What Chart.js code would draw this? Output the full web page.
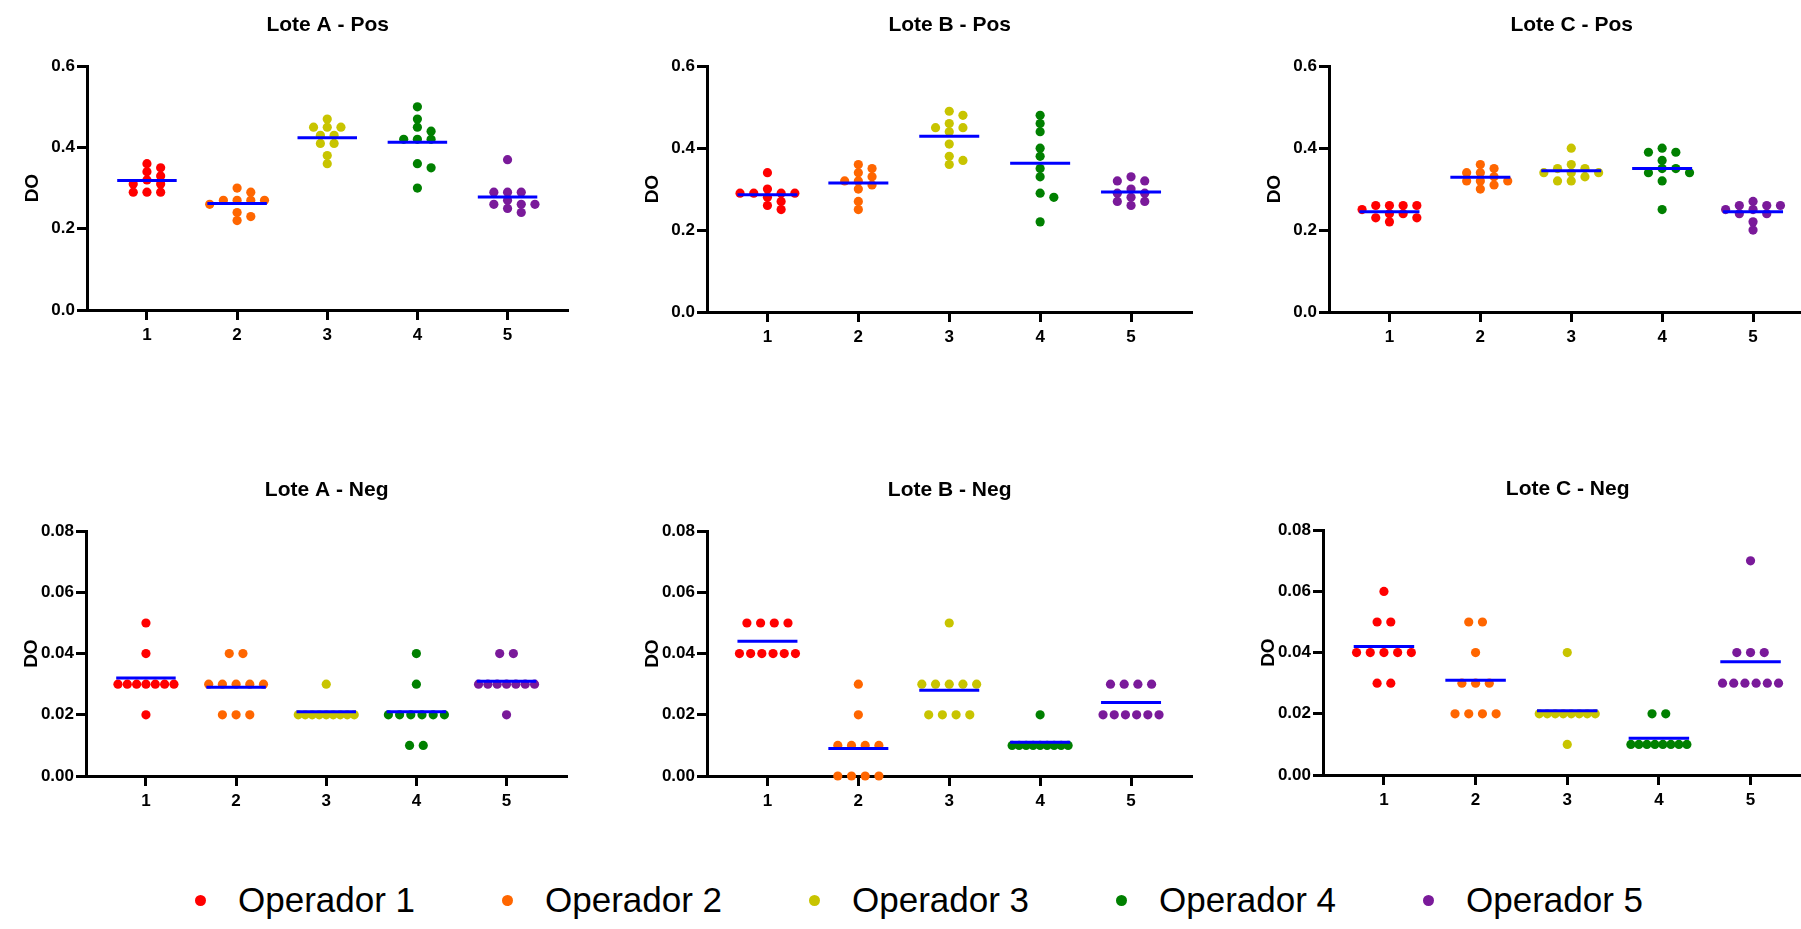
<!DOCTYPE html>
<html>
<head>
<meta charset="utf-8">
<script src="https://cdn.jsdelivr.net/npm/chart.js@4.4.0/dist/chart.umd.min.js"></script>
<style>
  html, body { margin: 0; padding: 0; background: #fff; }
  body { position: relative; width: 1801px; height: 929px; overflow: hidden;
         font-family: "Liberation Sans", Arial, sans-serif; }
  canvas { position: absolute; }
  #legend { position: absolute; left: 195px; top: 880px; height: 40px; display: flex; align-items: center; }
  #legend .item { display: flex; align-items: center; width: 307px; }
  #legend .dot { width: 11px; height: 11px; border-radius: 50%; margin-right: 32px; }
  #legend .txt { font-size: 35px; line-height: 40px; color: #000; white-space: nowrap; }
</style>
</head>
<body>
<div id="legend"></div>
<script>
// categories (operador index on the x axis)
var categories = [1, 2, 3, 4, 5];
var operadores = ["Operador 1", "Operador 2", "Operador 3", "Operador 4", "Operador 5"];
var colores = ["#ff0000", "#ff6600", "#c8c400", "#008000", "#7a1a9a"];

// y tick values
var posTicks = [0, 0.2, 0.4, 0.6];
var negTicks = [0, 0.02, 0.04, 0.06, 0.08];

// DO readings, one list per operador
var loteAPos = [
  [0.36, 0.35, 0.34, 0.33, 0.32, 0.31, 0.31, 0.29, 0.29, 0.29],
  [0.30, 0.29, 0.27, 0.27, 0.27, 0.27, 0.26, 0.24, 0.23, 0.22],
  [0.47, 0.45, 0.45, 0.45, 0.43, 0.43, 0.41, 0.41, 0.38, 0.36],
  [0.50, 0.47, 0.45, 0.44, 0.42, 0.42, 0.42, 0.36, 0.35, 0.30],
  [0.37, 0.29, 0.29, 0.29, 0.27, 0.26, 0.26, 0.26, 0.25, 0.24]
];
var loteBPos = [
  [0.34, 0.30, 0.29, 0.29, 0.29, 0.29, 0.28, 0.27, 0.26, 0.25],
  [0.36, 0.35, 0.34, 0.33, 0.32, 0.32, 0.31, 0.30, 0.27, 0.25],
  [0.49, 0.48, 0.46, 0.45, 0.45, 0.44, 0.41, 0.38, 0.37, 0.36],
  [0.48, 0.46, 0.44, 0.40, 0.38, 0.35, 0.33, 0.29, 0.28, 0.22],
  [0.33, 0.32, 0.32, 0.30, 0.29, 0.29, 0.28, 0.27, 0.27, 0.26]
];
var loteCPos = [
  [0.26, 0.26, 0.26, 0.26, 0.25, 0.24, 0.24, 0.23, 0.23, 0.22],
  [0.36, 0.35, 0.34, 0.34, 0.33, 0.32, 0.32, 0.32, 0.31, 0.30],
  [0.40, 0.36, 0.35, 0.35, 0.34, 0.34, 0.34, 0.33, 0.32, 0.32],
  [0.40, 0.39, 0.39, 0.37, 0.35, 0.35, 0.34, 0.34, 0.32, 0.25],
  [0.27, 0.26, 0.26, 0.26, 0.25, 0.25, 0.24, 0.24, 0.22, 0.20]
];
var loteANeg = [
  [0.05, 0.04, 0.03, 0.03, 0.03, 0.03, 0.03, 0.03, 0.03, 0.02],
  [0.04, 0.04, 0.03, 0.03, 0.03, 0.03, 0.03, 0.02, 0.02, 0.02],
  [0.03, 0.02, 0.02, 0.02, 0.02, 0.02, 0.02, 0.02, 0.02, 0.02],
  [0.04, 0.03, 0.02, 0.02, 0.02, 0.02, 0.02, 0.02, 0.01, 0.01],
  [0.04, 0.04, 0.03, 0.03, 0.03, 0.03, 0.03, 0.03, 0.03, 0.02]
];
var loteBNeg = [
  [0.05, 0.05, 0.05, 0.05, 0.04, 0.04, 0.04, 0.04, 0.04, 0.04],
  [0.03, 0.02, 0.01, 0.01, 0.01, 0.01, 0.00, 0.00, 0.00, 0.00],
  [0.05, 0.03, 0.03, 0.03, 0.03, 0.03, 0.02, 0.02, 0.02, 0.02],
  [0.02, 0.01, 0.01, 0.01, 0.01, 0.01, 0.01, 0.01, 0.01, 0.01],
  [0.03, 0.03, 0.03, 0.03, 0.02, 0.02, 0.02, 0.02, 0.02, 0.02]
];
var loteCNeg = [
  [0.06, 0.05, 0.05, 0.04, 0.04, 0.04, 0.04, 0.04, 0.03, 0.03],
  [0.05, 0.05, 0.04, 0.03, 0.03, 0.03, 0.02, 0.02, 0.02, 0.02],
  [0.04, 0.02, 0.02, 0.02, 0.02, 0.02, 0.02, 0.02, 0.02, 0.01],
  [0.02, 0.02, 0.01, 0.01, 0.01, 0.01, 0.01, 0.01, 0.01, 0.01],
  [0.07, 0.04, 0.04, 0.04, 0.03, 0.03, 0.03, 0.03, 0.03, 0.03]
];

// layout
var YAXIS_W = 90, TITLE_H = 66, XAXIS_H = 40;
var X_MIN = 0.335, X_MAX = 5.675, MEAN_HALF = 0.33;
var DOT_GAP = 13.7, DOT_VGAP = 7, ROW_SPAN = 56;

var panels = [
  { title: "Lote A - Pos", data: loteAPos, yTicks: posTicks, dec: 1, box: [87, 66, 573, 310] },
  { title: "Lote B - Pos", data: loteBPos, yTicks: posTicks, dec: 1, box: [707, 66, 1197, 312] },
  { title: "Lote C - Pos", data: loteCPos, yTicks: posTicks, dec: 1, box: [1329, 66, 1819, 312] },
  { title: "Lote A - Neg", data: loteANeg, yTicks: negTicks, dec: 2, box: [86, 531, 572, 776] },
  { title: "Lote B - Neg", data: loteBNeg, yTicks: negTicks, dec: 2, box: [707, 531, 1197, 776] },
  { title: "Lote C - Neg", data: loteCNeg, yTicks: negTicks, dec: 2, box: [1323, 530, 1817, 775] }
];

Chart.defaults.font.family = "'Liberation Sans', Arial, sans-serif";
Chart.defaults.color = "#000";

// beeswarm offsets in pixels, like the prism scatter dot plot
function swarm(vals, pxY) {
  var idx = vals.map(function(v, i) { return i; });
  idx.sort(function(a, b) { return vals[b] - vals[a]; });
  var placed = [], off = [];
  idx.forEach(function(i) {
    var y = vals[i] * pxY;
    for (var k = 0; k < 40; k++) {
      var cands = k === 0 ? [0] : [k * DOT_GAP / 2, -k * DOT_GAP / 2];
      var hit = cands.find(function(c) {
        return placed.every(function(p) {
          return Math.abs(p.y - y) >= DOT_VGAP || Math.abs(p.x - c) >= DOT_GAP - 0.01;
        });
      });
      if (hit !== undefined) { off[i] = hit; placed.push({ x: hit, y: y }); break; }
    }
  });
  // rows of equal values standing alone: center them and squeeze long rows
  var rows = {};
  vals.forEach(function(v, i) {
    var key = Math.round(v * 1000);
    (rows[key] = rows[key] || []).push(i);
  });
  Object.keys(rows).forEach(function(key) {
    var v = key / 1000;
    var alone = vals.every(function(w) {
      return Math.round(w * 1000) == key || Math.abs(w - v) * pxY >= DOT_VGAP;
    });
    if (!alone) return;
    var r = rows[key], n = r.length;
    var sp = n > 1 ? Math.min(DOT_GAP, ROW_SPAN / (n - 1)) : 0;
    r.forEach(function(i, j) { off[i] = (j - (n - 1) / 2) * sp; });
  });
  return off;
}

function axisStyle() {
  return {
    grid: { drawOnChartArea: false, drawTicks: true, tickLength: 10, tickWidth: 3, tickColor: "#000" },
    border: { display: true, color: "#000", width: 3 }
  };
}

function makePanel(p) {
  var b = p.box;
  var canvas = document.createElement("canvas");
  canvas.width = b[2] - b[0] + YAXIS_W;
  canvas.height = b[3] - b[1] + TITLE_H + XAXIS_H;
  canvas.style.left = (b[0] - YAXIS_W) + "px";
  canvas.style.top = (b[1] - TITLE_H) + "px";
  document.body.appendChild(canvas);

  var datasets = [];
  p.data.forEach(function(vals, k) {
    datasets.push({
      label: operadores[k],
      data: vals.map(function(v) { return { x: categories[k], y: v }; }),
      backgroundColor: colores[k],
      borderWidth: 0,
      pointRadius: 4.6,
      clip: false,
      order: 1
    });
  });
  p.data.forEach(function(vals, k) {
    var m = vals.reduce(function(a, c) { return a + c; }, 0) / vals.length;
    datasets.push({
      label: "media",
      data: [{ x: categories[k] - MEAN_HALF, y: m }, { x: categories[k] + MEAN_HALF, y: m }],
      showLine: true,
      borderColor: "#0000ff",
      borderWidth: 3,
      pointRadius: 0,
      clip: false,
      order: 0
    });
  });

  var xs = axisStyle(), ys = axisStyle();
  xs.type = "linear";
  xs.min = X_MIN; xs.max = X_MAX;
  xs.afterBuildTicks = function(s) { s.ticks = categories.map(function(v) { return { value: v }; }); };
  xs.afterFit = function(s) { s.height = XAXIS_H; };
  xs.ticks = { color: "#000", font: { size: 17, weight: "bold" }, padding: 5,
               callback: function(v) { return String(v); } };

  ys.min = 0; ys.max = p.yTicks[p.yTicks.length - 1];
  ys.afterBuildTicks = function(s) { s.ticks = p.yTicks.map(function(v) { return { value: v }; }); };
  ys.afterFit = function(s) { s.width = YAXIS_W; };
  ys.ticks = { color: "#000", font: { size: 17, weight: "bold" }, padding: 2,
               callback: function(v) { return Number(v).toFixed(p.dec); } };
  ys.title = { display: true, text: "DO", color: "#000", font: { size: 19, weight: "bold" },
               padding: { top: 24, bottom: 0 } };

  var chart = new Chart(canvas, {
    type: "scatter",
    data: { datasets: datasets },
    options: {
      responsive: false,
      animation: false,
      layout: { padding: 0 },
      plugins: {
        legend: { display: false },
        tooltip: { enabled: false },
        title: { display: true, text: p.title, color: "#000", fullSize: false,
                 font: { size: 21, weight: "bold" }, padding: { top: 13, bottom: 28 } }
      },
      scales: { x: xs, y: ys }
    }
  });

  // spread the dots sideways, using the scales for the pixel size
  var sx = chart.scales.x, sy = chart.scales.y;
  var pxX = sx.getPixelForValue(2) - sx.getPixelForValue(1);
  var pxY = (sy.getPixelForValue(0) - sy.getPixelForValue(p.yTicks[1])) / p.yTicks[1];
  p.data.forEach(function(vals, k) {
    var off = swarm(vals, pxY);
    chart.data.datasets[k].data.forEach(function(pt, i) { pt.x = categories[k] + off[i] / pxX; });
  });
  chart.update("none");
}

panels.forEach(makePanel);

// legend
var legend = document.getElementById("legend");
operadores.forEach(function(name, k) {
  var item = document.createElement("div");
  item.className = "item";
  var dot = document.createElement("span");
  dot.className = "dot";
  dot.style.background = colores[k];
  var txt = document.createElement("span");
  txt.className = "txt";
  txt.textContent = name;
  item.appendChild(dot);
  item.appendChild(txt);
  legend.appendChild(item);
});
</script>
</body>
</html>
